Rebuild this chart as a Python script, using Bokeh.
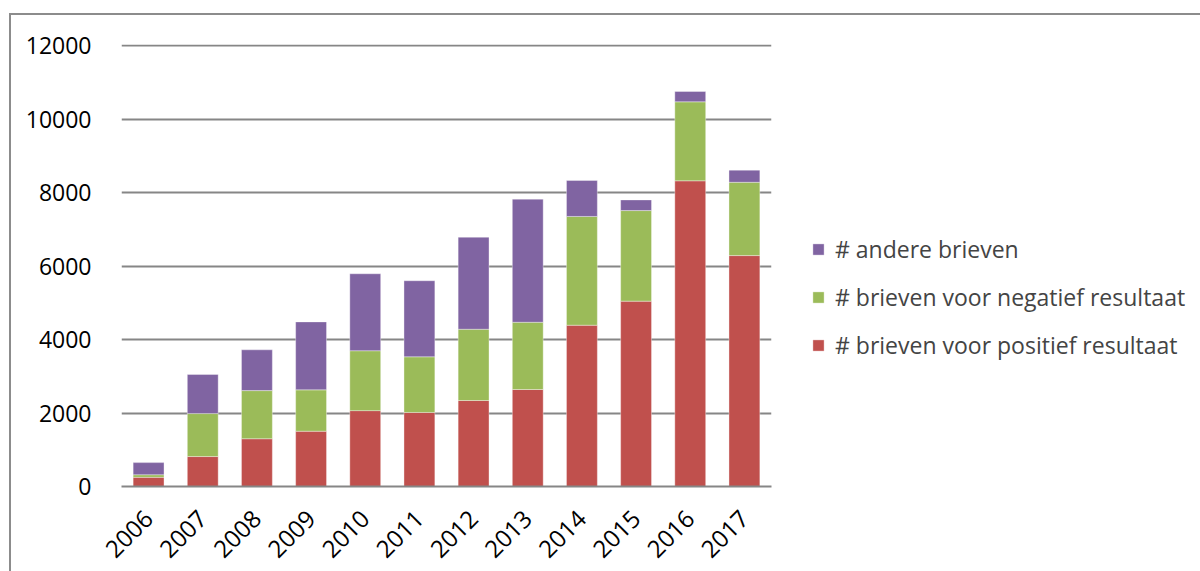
import math
from bokeh.plotting import figure
from bokeh.models import ColumnDataSource, Legend, LegendItem, FixedTicker
from bokeh.embed import file_html
from bokeh.resources import INLINE

years = ["2006", "2007", "2008", "2009", "2010", "2011", "2012", "2013", "2014", "2015", "2016", "2017"]
positief = [250, 815, 1300, 1505, 2065, 2015, 2340, 2640, 4390, 5045, 8320, 6285]
negatief = [70, 1170, 1310, 1125, 1630, 1515, 1940, 1830, 2960, 2465, 2150, 1995]
andere = [330, 1065, 1110, 1850, 2095, 2070, 2505, 3350, 980, 290, 280, 330]
series_names = ["# brieven voor positief resultaat", "# brieven voor negatief resultaat", "# andere brieven"]
colors = ["#C0504D", "#9BBB59", "#8064A2"]
y_ticks = [0, 2000, 4000, 6000, 8000, 10000, 12000]

FONT = "Open Sans"

src = ColumnDataSource(dict(years=years, pos=positief, neg=negatief, and_=andere))

p = figure(x_range=years, y_range=(0, 12030), output_backend="svg", toolbar_location=None,
           frame_width=650, frame_height=442, min_border_left=110, min_border_top=29,
           min_border_right=10, min_border_bottom=88)
p.styles = {"border-left": "2px solid #8c8c8c", "border-top": "2px solid #8c8c8c",
            "margin-top": "13px", "margin-left": "9px", "margin-bottom": "-30px"}
p.outline_line_color = None

r = p.vbar_stack(["pos", "neg", "and_"], x="years", width=0.57, source=src,
                 color=colors, line_color="white", line_width=0.6, line_alpha=0.6)

p.xgrid.grid_line_color = None
p.ygrid.grid_line_color = "#868686"
p.ygrid.grid_line_width = 2
p.ygrid.ticker = FixedTicker(ticks=y_ticks)

p.yaxis.ticker = FixedTicker(ticks=y_ticks)
p.yaxis.axis_line_color = None
p.yaxis.major_tick_line_color = None
p.yaxis.minor_tick_line_color = None
p.yaxis.major_label_text_font = FONT
p.yaxis.major_label_text_font_size = "23px"
p.yaxis.major_label_text_color = "#000000"
p.yaxis.major_label_standoff = 24

p.xaxis.axis_line_color = "#868686"
p.xaxis.axis_line_width = 2
p.xaxis.major_tick_line_color = None
p.xaxis.minor_tick_line_color = None
p.xaxis.major_label_orientation = math.pi / 4
p.xaxis.major_label_text_font = FONT
p.xaxis.major_label_text_font_size = "24px"
p.xaxis.major_label_text_color = "#000000"
p.xaxis.major_label_standoff = 22

items = [LegendItem(label=series_names[i], renderers=[r[i]]) for i in (2, 1, 0)]
legend = Legend(items=items, location=(40, 125), border_line_color=None,
                background_fill_alpha=0, padding=0, margin=0,
                glyph_width=14, glyph_height=14, label_height=28, spacing=16,
                label_text_font=FONT, label_text_font_size="23px", label_standoff=10)
p.add_layout(legend, "right")

open("out.html", "w").write(file_html(p, INLINE))
